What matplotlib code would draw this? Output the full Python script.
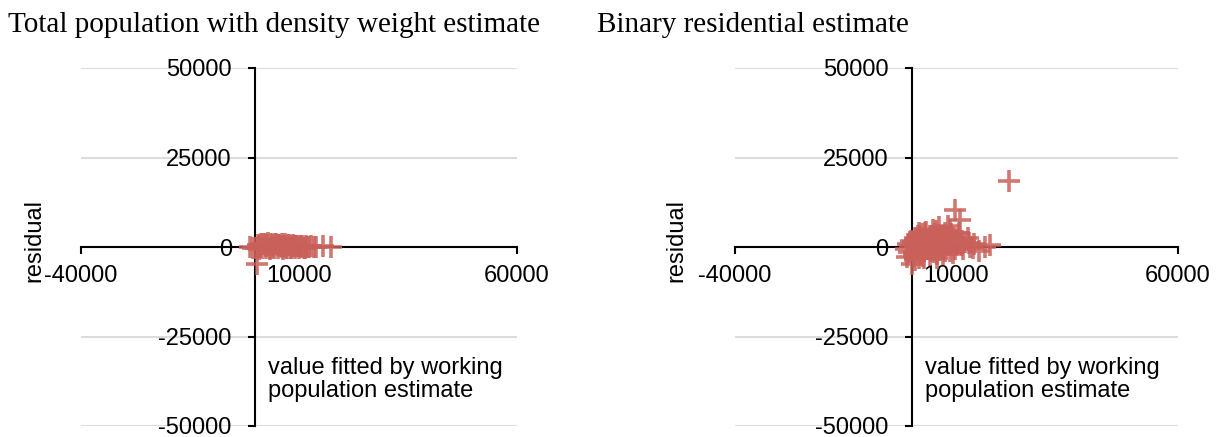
import matplotlib
matplotlib.use("Agg")
import matplotlib.pyplot as plt

# ---------------- data ----------------
titles = ["Total population with density weight estimate", "Binary residential estimate"]
x_label = "value fitted by working\npopulation estimate"
y_label = "residual"
x_ticks = [-40000, 10000, 60000]
y_ticks = [-50000, -25000, 0, 25000, 50000]

left_x = [300, 200, 600, 900, 1200, 1500, 1800, 2100, 2400, 2700, 3000, 3300, 3600, 3900,
          4200, 4500, 4800, 5100, 5400, 5700, 6000, 6300, 6600, 6900, 7200, 7500, 7800,
          8100, 8400, 8700, 9000, 9300, 9600, 9900, 10200, 10500, 10800, 11100, 11500,
          11900, 12300, 12800, 13400, 15600, 17400, 800, 2500, 4000, 6100, 8200,
          -1200, -600, 1000, 3400, 5200, 7000, 9100, 11300, 14000]
left_y = [-4700, -300, 600, -500, 800, -400, 700, 900, -300, 600, 1000, -600, 800, 500,
          -200, 900, 700, -400, 600, 300, 800, -500, 400, 700, -300, 500, 600, -400,
          300, 500, -200, 400, 200, -300, 300, 100, 400, -200, 200, 100, -100, 300, 0,
          200, -100, 100, 200, -100, 100, -300,
          0, -200, 300, -400, 500, -300, 300, -200, 100]

right_x = [-1500, -1000, -800, -500, 0, 200, 400, 600, 900, 1100, 1300, 1500, 1800, 2000,
           2200, 2500, 2700, 3000, 3200, 3500, 3700, 4000, 4200, 4500, 4800, 5000, 5300,
           5500, 5800, 6000, 6300, 6500, 6800, 7000, 7300, 7600, 8000, 8200, 8500, 8800,
           9000, 9300, 9700, 10000, 10500, 10800, 11000, 11500, 12000, 12500, 13000,
           14000, 15000, 16500, 17500, 21800,
           -1200, -300, 300, 700, 1000, 1400, 1700, 2100, 2400, 2800, 3100, 3400, 3900,
           4300, 4700, 5100, 5600, 6100, 6600, 7100, 7700, 8300, 9100, 9600, 10200,
           700, 1600, 2600, 3600, 4600, 5400, 6400, 7400, 8600, 11200, 12800, 13800]
right_y = [-500, 800, -1500, 300, -4700, 1500, -2500, 500, 2200, -1000, 3000, -3200, 1000,
           -2000, 3500, 200, -1200, 2500, 4200, -500, 1500, -2200, 3000, 500, 4800, -1500,
           2000, -3000, 1000, 5500, -800, 3000, 1800, -2000, 4000, 500, 6000, 2200, -1000,
           3500, 1000, -1800, 10300, 2000, 4000, 7500, 500, -500, 1500, 2500, 0, 800,
           -1200, 0, 500, 18500,
           -2800, 1800, -1800, 2600, 400, -600, 2800, 1200, -2600, 3800, 600, 1800, 2200,
           -1200, 1800, 3600, -2000, 2400, -400, 1200, 2800, 1400, 2600, -600, 500,
           -3500, 4000, -3000, 600, -800, 4500, 1800, -1200, 4800, 1600, 1200, -400]

panels = [(left_x, left_y), (right_x, right_y)]

# ---------------- figure ----------------
W, H = 1223, 437
fig = plt.figure(figsize=(W / 100, H / 100), dpi=100)

sans = "Liberation Sans"
serif = "Liberation Serif"
marker_color = "#C9605A"

axes_px = [(81, 517), (735, 1178)]
top_px, bot_px = 68, 426
title_x_px = [8, 597]
ylabel_x_px = [34, 676]

for i, ((xs, ys), (l, r)) in enumerate(zip(panels, axes_px)):
    ax = fig.add_axes([l / W, 1 - bot_px / H, (r - l) / W, (bot_px - top_px) / H])
    ax.set_xlim(-40000, 60000)
    ax.set_ylim(-50000, 50000)
    ax.plot(xs, ys, linestyle="none", marker="+", markersize=16, mew=2.6,
            color=marker_color, alpha=0.85, zorder=3)

    for s in ["top", "right"]:
        ax.spines[s].set_visible(False)
    ax.spines["left"].set_position(("data", 0))
    ax.spines["bottom"].set_position(("data", 0))
    for s in ["left", "bottom"]:
        ax.spines[s].set_linewidth(1.5)
        ax.spines[s].set_zorder(2)

    ax.set_xticks(x_ticks)
    ax.set_yticks(y_ticks)
    ax.set_xticklabels([str(v) for v in x_ticks], fontfamily=sans, fontsize=17)
    ax.set_yticklabels([str(v) for v in y_ticks], fontfamily=sans, fontsize=17)
    ax.tick_params(axis="x", direction="out", length=5, width=1.5, pad=8)
    ax.tick_params(axis="y", direction="out", length=5, width=1.5, pad=12)

    ax.yaxis.grid(True, color="#dcdcdc", linewidth=1.5)
    ax.xaxis.grid(False)
    ax.set_axisbelow(True)
    ax.patch.set_alpha(0)

    ax.text(3000, -37000, x_label, fontfamily=sans, fontsize=17,
            ha="left", va="center", linespacing=1.1)

    fig.text(ylabel_x_px[i] / W, 1 - 240 / H, y_label, rotation=90, fontfamily=sans,
             fontsize=17, ha="center", va="center")
    fig.text(title_x_px[i] / W, 1 - 25 / H, titles[i], fontfamily=serif,
             fontsize=21, ha="left", va="center")

fig.savefig("out.png", dpi=100)
